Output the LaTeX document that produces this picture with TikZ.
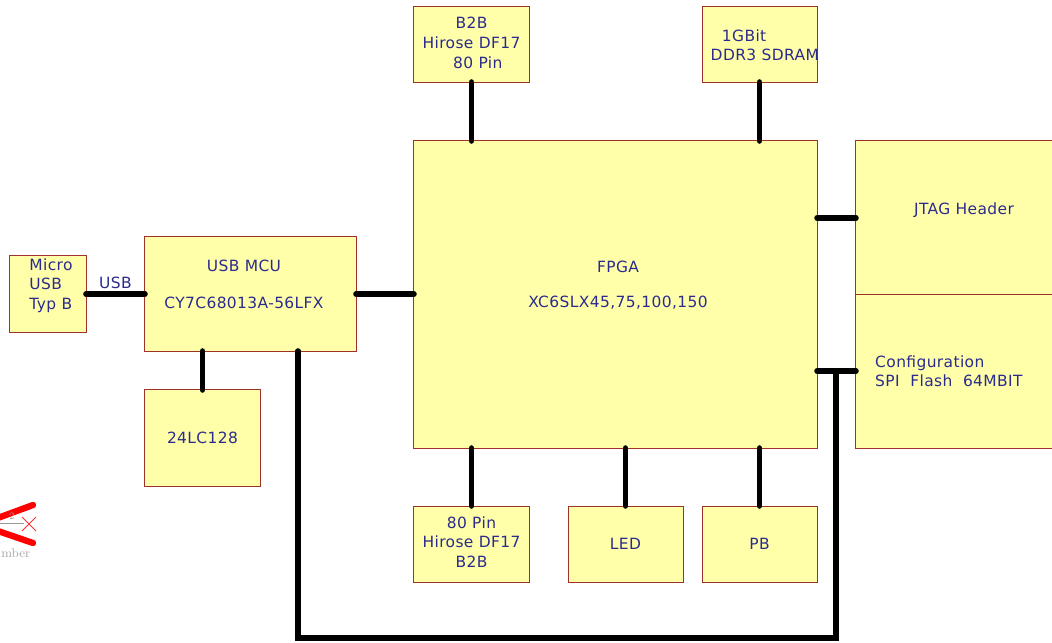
\documentclass[tikz,border=0pt]{standalone}
\usepackage{fontspec}
\setsansfont{DejaVu Sans}[LetterSpace=2.5]
\definecolor{boxfill}{HTML}{FFFFAA}
\definecolor{boxdraw}{HTML}{A0302A}
\definecolor{boxtext}{HTML}{2B2B8C}
\renewcommand{\arraystretch}{1.08}

\begin{document}
\begin{tikzpicture}[
    x=0.025cm, y=-0.025cm,
    block/.style = {rectangle, draw=boxdraw, line width=0.7pt, fill=boxfill, inner sep=0pt, outer sep=0pt, text=boxtext, font=\sffamily\fontsize{11}{13}\selectfont},
    txt/.style = {inner sep=0pt, text=boxtext, font=\sffamily\fontsize{11}{13}\selectfont},
    line/.style = {draw, line width=4pt, line cap=round}
]
    \useasboundingbox (0,0) rectangle (1052,643);
    \clip (0,0) rectangle (1052,643);

    % Nodes - Koordinaten in Pixel des Blockschaltbilds
    \node [block, minimum width=1.9cm, minimum height=1.9cm] (usb) at (48, 294) {};
    \node [txt] (usbtxt) at (51, 286) {\begin{tabular}{l}Micro \\ USB \\ Typ B\end{tabular}};

    \node [block, minimum width=5.275cm, minimum height=2.85cm] (mcu) at (250.5, 294) {};
    \node [txt] (mcutxt) at (244, 286) {\begin{tabular}{c}USB MCU \\[12pt] CY7C68013A-56LFX\end{tabular}};
    \node [block, minimum width=2.875cm, minimum height=2.4cm] (eeprom) at (202.5, 438) {24LC128};

    \node [block, minimum width=2.875cm, minimum height=1.875cm] (b2btop) at (471.5, 44.5) {\begin{tabular}{c}B2B \\ Hirose DF17 \\ \hspace{9pt}80 Pin\end{tabular}};
    \node [block, minimum width=2.875cm, minimum height=1.875cm] (ddr) at (759.5, 44.5) {};
    \node [txt, anchor=west] (ddrtxt) at (702, 47) {\begin{tabular}{l}\hspace{8pt}1GBit \\ DDR3 SDRAM\end{tabular}};

    \node [block, minimum width=10.075cm, minimum height=7.675cm] (fpga) at (615.5, 294.5) {};
    \node [txt] (fpgatxt) at (618, 286) {\begin{tabular}{c}FPGA \\[11pt] XC6SLX45,75,100,150\end{tabular}};

    \node [block, minimum width=5.6cm, minimum height=3.85cm] (jtag) at (968, 218) {};
    \node [txt] (jtagtxt) at (964, 210) {JTAG Header};
    \node [block, minimum width=5.6cm, minimum height=3.825cm] (flash) at (968, 371.5) {};
    \node [txt, anchor=west] (flashtxt) at (866.5, 373) {\begin{tabular}{l}Configuration \\ SPI~ Flash~ 64MBIT\end{tabular}};

    \node [block, minimum width=2.875cm, minimum height=1.9cm] (b2bbot) at (471.5, 544) {\begin{tabular}{c}80 Pin \\ Hirose DF17 \\ B2B\end{tabular}};
    \node [block, minimum width=2.875cm, minimum height=1.9cm] (led) at (625.5, 544) {LED};
    \node [block, minimum width=2.875cm, minimum height=1.9cm] (pb) at (759.5, 544) {PB};

    \coordinate (mcutap) at (298, 0);
    \coordinate (spitap) at (836, 371);
    \coordinate (busbot) at (0, 638);

    % Edges
    \path [line] (usb.east) -- (mcu.west) node [txt, midway, above=2pt] (usblbl) {USB};
    \path [line] (mcu.east) -- (mcu.east -| fpga.west);
    \path [line] (eeprom.north |- mcu.south) -- (eeprom.north);
    \path [line] (mcu.south -| mcutap) -- (mcutap |- busbot) -| (spitap);
    \path [line] (fpga.east |- spitap) -- (flash.west |- spitap);
    \path [line] (fpga.east |- jtag.west) -- (jtag.west);

    \path [line] (b2btop.south) -- (b2btop.south |- fpga.north);
    \path [line] (ddr.south) -- (ddr.south |- fpga.north);
    \path [line] (fpga.south -| b2bbot.north) -- (b2bbot.north);
    \path [line] (fpga.south -| led.north) -- (led.north);
    \path [line] (fpga.south -| pb.north) -- (pb.north);

    % Rest eines abgeschnittenen Symbols links unten
    \draw [red, line width=4.5pt, line cap=round] (-5, 519) -- (33, 505);
    \draw [red, line width=4.5pt, line cap=round] (-5, 530) -- (33, 543);
    \draw [gray!80, line width=0.7pt] (0, 523) -- (24, 523);
    \node [gray!70, inner sep=0pt, font=\scriptsize] (pinnum) at (12, 516) {2};
    \draw [red!80, line width=0.6pt] (22, 517) -- (36, 531) (22, 531) -- (36, 517);
    \node [gray!70, inner sep=0pt, font=\rmfamily\small, anchor=west] (partlbl) at (1, 553) {mber};

\end{tikzpicture}
\end{document}
